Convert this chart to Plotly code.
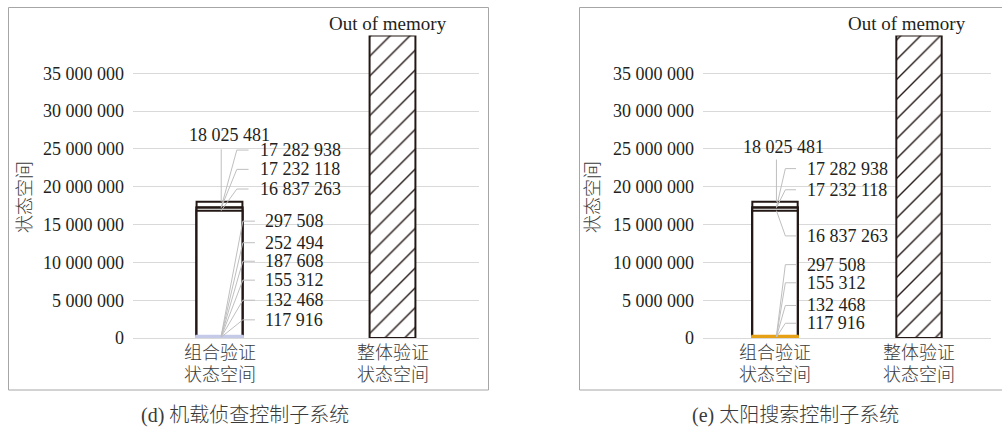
import plotly.graph_objects as go

# ---- data ----
categories = [["组合验证", "状态空间"], ["整体验证", "状态空间"]]
panel_titles = ["(d) 机载侦查控制子系统", "(e) 太阳搜索控制子系统"]
value_axis_title = "状态空间"

# overlapped sub-results of the compositional verification (state counts)
d_values = [18025481, 17282938, 17232118, 16837263,
            297508, 252494, 187608, 155312, 132468, 117916]
e_values = [18025481, 17282938, 17232118, 16837263,
            297508, 155312, 132468, 117916]

# the monolithic run never finished: its bar fills the whole value axis
whole_value = 40000000
whole_note = "Out of memory"

y_max = 40000000
y_ticks = [0, 5000000, 10000000, 15000000, 20000000, 25000000, 30000000, 35000000]

# ---- label placement (value-axis units, millions) ----
d_label_y = [26.9, 24.85, 22.3, 19.7, 15.45, 12.6, 10.15, 7.65, 5.0, 2.4]
e_label_y = [25.3, 22.4, 19.6, 13.5, 9.7, 7.3, 4.3, 1.95]
d_top_leader = 24.96
e_top_leader = 23.6

TXT = "#231f20"
CJK_TXT = "#3a3a3a"
GRID = "#d9d9d9"
LEADER = "#bfbfbf"
OUTLINE = "#231815"
NUM_FONT = "Times New Roman, Liberation Serif, serif"
CJK_FONT = "Times New Roman, Liberation Serif, Noto Sans CJK SC, sans-serif"

W, H = 1002, 430


def px(v):
    return v / W


def py(v):
    return 1 - v / H


def fmt(v):
    return f"{v:,}".replace(",", " ")


fig = go.Figure()

panels = [
    dict(values=d_values, label_y=d_label_y, top=d_top_leader, small="#c5cae9",
         xa="x", ya="y", bw=0.265, big_cut=1000000,
         elbow=(0.10, 0.135), end=(0.168, 0.205), tx=(0.225, 0.25),
         note_shift=-5),
    dict(values=e_values, label_y=e_label_y, top=e_top_leader, small="#e6a117",
         xa="x2", ya="y2", bw=0.315, big_cut=1000000,
         elbow=(0.072, 0.072), end=(0.146, 0.146), tx=(0.205, 0.205),
         note_shift=-12),
]

shapes = []
annotations = []

for p in panels:
    vals = p["values"]
    fills = ["white" if v > p["big_cut"] else p["small"] for v in vals]
    lines = [OUTLINE if v > p["big_cut"] else p["small"] for v in vals]
    # overlapped bars: drawn largest first so each smaller one sits on top
    fig.add_trace(go.Bar(
        x=[0] * len(vals), y=vals, width=p["bw"],
        marker=dict(color=fills, opacity=1, line=dict(color=lines, width=2)),
        xaxis=p["xa"], yaxis=p["ya"], showlegend=False, hoverinfo="y",
    ))
    fig.add_trace(go.Bar(
        x=[1], y=[whole_value], width=p["bw"],
        marker=dict(color="white", opacity=1, line=dict(color=OUTLINE, width=2),
                    pattern=dict(shape="/", fgcolor=OUTLINE, bgcolor="white",
                                 fgopacity=1, size=14, solidity=0.1)),
        xaxis=p["xa"], yaxis=p["ya"], showlegend=False, hoverinfo="skip",
    ))

    # leader lines and value labels
    for i, (v, ly) in enumerate(zip(vals, p["label_y"])):
        ly = ly * 1e6
        grp = 0 if v > p["big_cut"] else 1
        if i == 0:
            shapes.append(dict(type="line", xref=p["xa"], yref=p["ya"],
                               x0=0.01, y0=v, x1=0.01, y1=p["top"] * 1e6,
                               line=dict(color=LEADER, width=1), layer="above"))
            annotations.append(dict(x=0.06, y=ly, xref=p["xa"], yref=p["ya"],
                                    text=fmt(v), showarrow=False,
                                    xanchor="center", yanchor="middle",
                                    font=dict(family=NUM_FONT, size=18, color=TXT)))
            continue
        ex, en, tx = p["elbow"][grp], p["end"][grp], p["tx"][grp]
        shapes.append(dict(type="path", xref=p["xa"], yref=p["ya"],
                           path=f"M 0.01,{v} L {ex},{ly} L {en},{ly}",
                           line=dict(color=LEADER, width=1), layer="above"))
        annotations.append(dict(x=tx, y=ly, xref=p["xa"], yref=p["ya"],
                                text=fmt(v), showarrow=False,
                                xanchor="left", yanchor="middle",
                                font=dict(family=NUM_FONT, size=18, color=TXT)))

    annotations.append(dict(x=1, y=py(23), xref=p["xa"], yref="paper",
                            text=whole_note, showarrow=False, xshift=p["note_shift"],
                            xanchor="center", yanchor="middle",
                            font=dict(family=NUM_FONT, size=19, color=TXT)))

    # two-line category labels under each bar
    for ci, lines_txt in enumerate(categories):
        for li, t in enumerate(lines_txt):
            annotations.append(dict(x=ci, y=py(353 + 22 * li), xref=p["xa"], yref="paper",
                                    text=t, showarrow=False,
                                    xanchor="center", yanchor="middle",
                                    font=dict(family=CJK_FONT, size=18, color=CJK_TXT,
                                              weight=300)))

# panel frames
shapes.append(dict(type="rect", xref="paper", yref="paper",
                   x0=px(8.5), x1=px(488.5), y0=py(390), y1=py(7.5),
                   line=dict(color="#a6a6a6", width=1), layer="below"))
shapes.append(dict(type="rect", xref="paper", yref="paper",
                   x0=px(579.5), x1=px(1010), y0=py(390), y1=py(7.5),
                   line=dict(color="#a6a6a6", width=1), layer="below"))

# value-axis titles and captions
for x_title, x_cap, cap in [(25, 245, panel_titles[0]), (593, 795, panel_titles[1])]:
    annotations.append(dict(x=px(x_title), y=py(197), xref="paper", yref="paper",
                            text=value_axis_title, textangle=-90, showarrow=False,
                            xanchor="center", yanchor="middle",
                            font=dict(family=CJK_FONT, size=18, color=CJK_TXT, weight=300)))
    annotations.append(dict(x=px(x_cap), y=py(415), xref="paper", yref="paper",
                            text=cap, showarrow=False,
                            xanchor="center", yanchor="middle",
                            font=dict(family=CJK_FONT, size=20, color=CJK_TXT, weight=300)))

xaxis_common = dict(range=[-0.5, 1.5], tickvals=[0, 1], showticklabels=False,
                    showgrid=False, zeroline=False, showline=False, ticks="",
                    fixedrange=True, automargin=False)
yaxis_common = dict(range=[0, y_max], tickvals=y_ticks, tickformat=",d",
                    showgrid=True, gridcolor=GRID, gridwidth=1,
                    zeroline=True, zerolinecolor=GRID, zerolinewidth=1,
                    showline=False, ticks="", ticklabelstandoff=8,
                    fixedrange=True, automargin=False,
                    tickfont=dict(family=NUM_FONT, size=18, color=TXT))

fig.update_layout(
    width=W, height=H,
    margin=dict(l=0, r=0, t=0, b=0, autoexpand=False),
    paper_bgcolor="white", plot_bgcolor="white",
    barmode="overlay", separators=". ",
    xaxis=dict(domain=[px(133), px(479)], anchor="y", **xaxis_common),
    yaxis=dict(domain=[py(338), py(35.5)], anchor="x", **yaxis_common),
    xaxis2=dict(domain=[px(703), px(991)], anchor="y2", **xaxis_common),
    yaxis2=dict(domain=[py(338), py(35.5)], anchor="x2", **yaxis_common),
    shapes=shapes, annotations=annotations,
)

fig.write_html("out.html")
